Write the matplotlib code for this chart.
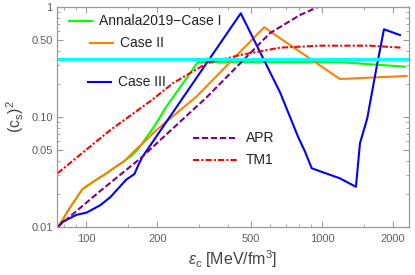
import matplotlib
matplotlib.use("Agg")
import matplotlib.pyplot as plt
from matplotlib.lines import Line2D
import numpy as np

plt.rcParams['font.family'] = ['Liberation Sans', 'DejaVu Sans']
plt.rcParams['mathtext.fontset'] = 'custom'
plt.rcParams['mathtext.rm'] = 'Liberation Sans'
plt.rcParams['mathtext.it'] = 'Liberation Sans:italic'
plt.rcParams['mathtext.fallback'] = 'stixsans'

# ---- data (energy density in MeV/fm^3, squared sound speed) ----
caseI_eps = [76.3, 85.5, 96.2, 108.1, 120.3, 132.7, 144.9, 156.6, 166.1, 177.8, 196, 216, 297.4, 1191, 2248]
caseI_cs2 = [0.0102, 0.0152, 0.0221, 0.0262, 0.0303, 0.0351, 0.0398, 0.0451, 0.0512, 0.0631, 0.0846, 0.120, 0.316, 0.315, 0.287]

caseII_eps = [76.3, 85.5, 96.2, 108.1, 120.3, 132.7, 144.9, 161.3, 177.8, 196, 294.7, 567.9, 1191, 2285]
caseII_cs2 = [0.0102, 0.0152, 0.0221, 0.0262, 0.0303, 0.0351, 0.0398, 0.0501, 0.0605, 0.0746, 0.155, 0.654, 0.2215, 0.236]

caseIII_eps = [75.9, 79.1, 90.7, 100, 114.6, 126.4, 140.7, 147.7, 159.8, 166.9, 172.7, 452,
               664, 791, 847, 904, 1191, 1393, 1449, 1556, 1706, 1832, 2142]
caseIII_cs2 = [0.010, 0.0111, 0.0129, 0.0135, 0.0158, 0.0187, 0.0241, 0.0270, 0.0303, 0.0374, 0.0433, 0.877,
               0.167, 0.0662, 0.0484, 0.0342, 0.0277, 0.0232, 0.0577, 0.0973, 0.286, 0.627, 0.556]

apr_eps = [75.4, 114.6, 169.4, 324.7, 602, 807, 962]
apr_cs2 = [0.010, 0.0213, 0.042, 0.152, 0.580, 0.846, 1.0]

tm1_eps = [75.4, 126.4, 189.9, 233.7, 324.6, 449, 664, 980, 1597, 2176]
tm1_cs2 = [0.0308, 0.0762, 0.143, 0.204, 0.308, 0.366, 0.427, 0.445, 0.445, 0.427]

conformal = 1.0 / 3.0

labels = ["Annala2019\u2212Case I", "Case II", "Case III", "APR", "TM1"]

xticks = [100, 200, 500, 1000, 2000]
xminor = [80, 90, 150, 300, 400, 600, 700, 800, 900, 1500]
yticks = [0.01, 0.05, 0.10, 0.50, 1]
ytick_labels = ["0.01", "0.05", "0.10", "0.50", "1"]
yminor = [0.02, 0.03, 0.04, 0.06, 0.07, 0.08, 0.09, 0.2, 0.3, 0.4, 0.6, 0.7, 0.8, 0.9]

# ---- figure ----
fig = plt.figure(figsize=(4.15, 2.75), dpi=100)
ax = fig.add_axes([57/415, 1 - 227/275, 352/415, 220/275])

c_green = (0, 1, 0)
c_orange = (1, 0.5, 0)
c_blue = (0, 0, 1)
c_purple = (0.5, 0, 0.5)
c_red = (1, 0, 0)
c_cyan = (0, 1, 1)

lw = 1.5
ax.plot(caseI_eps, caseI_cs2, color=c_green, lw=lw)
ax.plot(caseII_eps, caseII_cs2, color=c_orange, lw=lw)
ax.plot(caseIII_eps, caseIII_cs2, color=c_blue, lw=lw)
ax.plot(apr_eps, apr_cs2, color=c_purple, lw=lw, ls=(0, (3, 1.3)))
ax.plot(tm1_eps, tm1_cs2, color=c_red, lw=lw, ls=(0, (3, 1, 1, 1)))
ax.axhline(conformal, color=c_cyan, lw=2.3)

ax.set_xscale('log')
ax.set_yscale('log')
ax.set_xlim(75, 2340)
ax.set_ylim(0.01, 1)

ax.set_xticks(xticks)
ax.set_xticklabels([str(v) for v in xticks])
ax.set_xticks(xminor, minor=True)
ax.set_xticklabels([], minor=True)
ax.set_yticks(yticks)
ax.set_yticklabels(ytick_labels)
ax.set_yticks(yminor, minor=True)
ax.set_yticklabels([], minor=True)

frame_col = '#9a9a9a'
for s in ax.spines.values():
    s.set_color(frame_col)
    s.set_linewidth(0.9)
ax.tick_params(which='both', direction='in', top=True, right=True, colors=frame_col,
               labelcolor='#606060', labelsize=8)
ax.tick_params(which='major', length=4, width=0.8)
ax.tick_params(which='minor', length=2.3, width=0.6)
ax.tick_params(axis='x', pad=5)
ax.tick_params(axis='y', pad=3)

ax.set_xlabel(r'$\epsilon_{\mathrm{c}}$ [MeV/fm$^3$]', fontsize=11.5, color='#444444', labelpad=3)
ax.set_ylabel(r'(c$_{\mathrm{s}}$)$^2$', fontsize=11.5, color='#444444', labelpad=4)

# ---- legend entries placed as in the reference ----
entries = [
    (labels[0], c_green, '-', 0.035, 0.0986, 0.938, 0.1185),
    (labels[1], c_orange, '-', 0.094, 0.158, 0.8377, 0.179),
    (labels[2], c_blue, '-', 0.089, 0.153, 0.660, 0.174),
    (labels[3], c_purple, (0, (3, 1.3)), 0.387, 0.5105, 0.403, 0.537),
    (labels[4], c_red, (0, (3, 1, 1, 1)), 0.387, 0.5105, 0.3045, 0.537),
]
for text, col, ls, x0, x1, yy, xt in entries:
    ax.add_line(Line2D([x0, x1], [yy, yy], transform=ax.transAxes, color=col, lw=lw, ls=ls))
    ax.text(xt, yy, text, transform=ax.transAxes, fontsize=10, color='#222222',
            va='center', ha='left')

fig.savefig('out.png', dpi=100)
